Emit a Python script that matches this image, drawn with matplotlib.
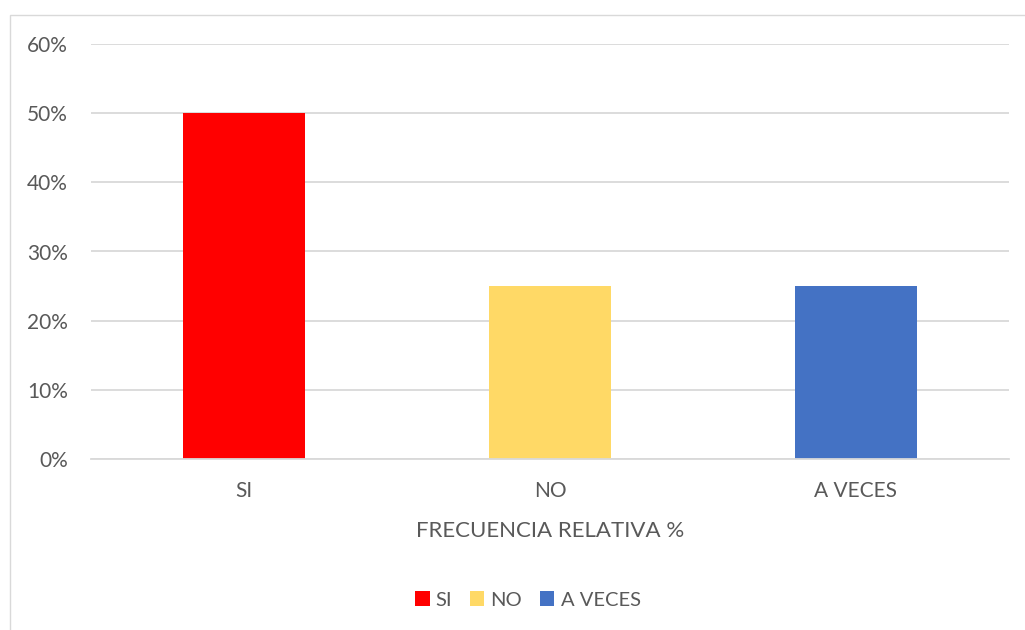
import matplotlib.pyplot as plt
from matplotlib.patches import Patch, Rectangle
from matplotlib.ticker import PercentFormatter

categories = ["SI", "NO", "A VECES"]
values = [0.50, 0.25, 0.25]
colors = ["#FF0000", "#FFD966", "#4472C4"]
yticks = [0, 0.1, 0.2, 0.3, 0.4, 0.5, 0.6]

TEXT = "#595959"
GRID = "#D9D9D9"

plt.rcParams["font.family"] = ["Lato", "DejaVu Sans"]

fig = plt.figure(figsize=(10.25, 6.3), dpi=100)
W, H = 1025, 630

# chart area border (Excel style, right/bottom run off the image)
fig.patches.append(Rectangle((10 / W, -0.01), 1.1, (630 - 15) / H + 0.01,
                             transform=fig.transFigure, fill=False,
                             edgecolor=GRID, linewidth=1.0))

ax = fig.add_axes([91 / W, (630 - 459) / H, (1009 - 91) / W, (459 - 44) / H])

x = range(len(categories))
ax.bar(x, values, width=0.4, color=colors, zorder=3)

ax.set_xlim(-0.5, len(categories) - 0.5)
ax.set_ylim(0, 0.6)
ax.set_yticks(yticks)
ax.yaxis.set_major_formatter(PercentFormatter(1.0, decimals=0))
ax.set_xticks(list(x))
ax.set_xticklabels(categories)

ax.grid(axis="y", color=GRID, linewidth=1.3, zorder=0)
for side in ["top", "right", "left"]:
    ax.spines[side].set_visible(False)
ax.spines["bottom"].set_color(GRID)
ax.spines["bottom"].set_linewidth(1.3)
ax.spines["bottom"].set_zorder(4)

ax.tick_params(axis="both", length=0, labelsize=15, colors=TEXT)
ax.tick_params(axis="y", pad=16.5)
ax.tick_params(axis="x", pad=16)

ax.set_xlabel("FRECUENCIA RELATIVA %", fontsize=16, color=TEXT, labelpad=14)

handles = [Patch(facecolor=c, label=lab) for c, lab in zip(colors, categories)]
fig.legend(handles=handles, loc="center", bbox_to_anchor=(528 / W, (630 - 600) / H),
           ncol=3, frameon=False, fontsize=14.5, labelcolor=TEXT,
           handlelength=0.7, handleheight=0.7, handletextpad=0.3,
           columnspacing=0.9)

fig.savefig("out.png", dpi=100, facecolor="white")
